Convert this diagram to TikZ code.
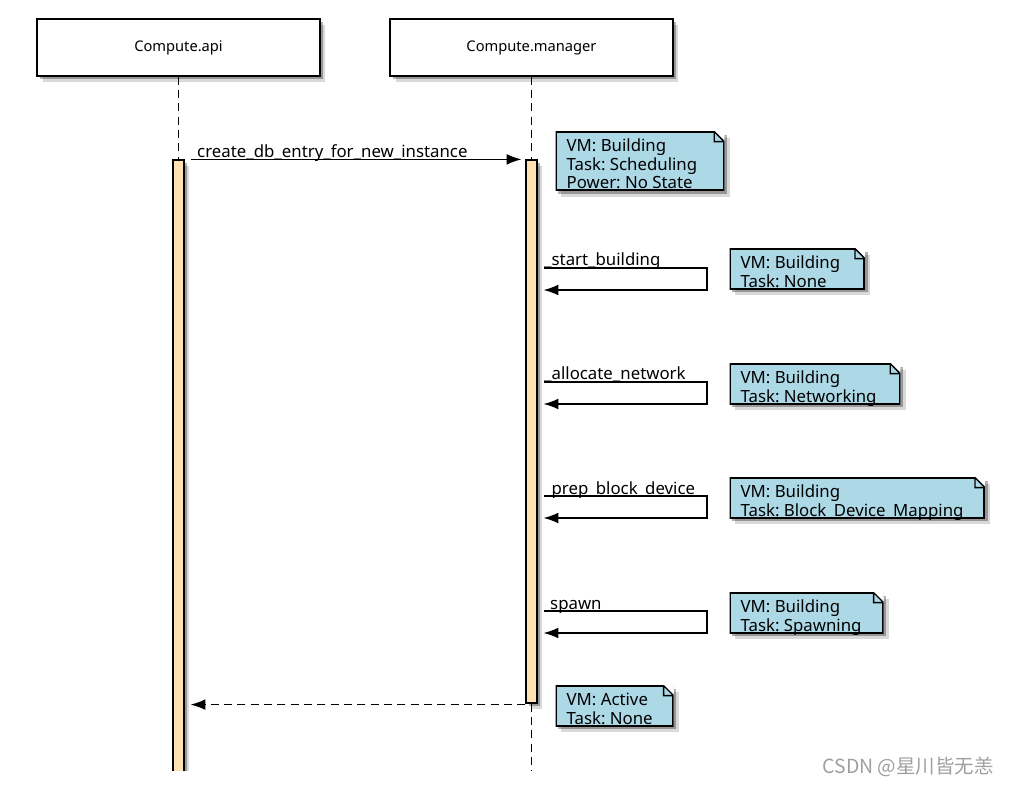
\documentclass[tikz,border=0pt]{standalone}
\usepackage{fontspec}
\setmainfont{Noto Sans}
\newfontfamily\cjk{Noto Sans CJK SC}
\usetikzlibrary{positioning,arrows.meta,calc,shadows}
\definecolor{notebg}{HTML}{ADD8E6}
\definecolor{barbg}{HTML}{FFE1B4}
\frenchspacing
\newcommand\statetext[2]{\begin{tabular}[b]{@{}p{#1}@{}}\rule{0pt}{13.5pt}#2\end{tabular}}
\tikzset{softshadow/.style={
    drop shadow={shadow xshift=2pt,shadow yshift=-2.5pt,opacity=.3,fill=black},
    drop shadow={shadow xshift=4pt,shadow yshift=-4.5pt,opacity=.15,fill=black}
    },
  participant/.style={draw,fill=white,line width=1.1pt,minimum width=212pt,
    minimum height=42.75pt,font=\fontsize{11}{13}\selectfont,softshadow},
  bar/.style={draw,fill=barbg,line width=0.9pt,minimum width=8.25pt,inner sep=0pt,softshadow},
  lifeline/.style={line width=0.9pt,dash pattern=on 6pt off 4pt},
  msglabel/.style={anchor=base west,inner sep=0pt,yshift=1.5pt,font=\fontsize{12.6}{14}\selectfont},
  note/.style={fill=notebg,anchor=north west,inner xsep=8.25pt,inner ysep=1.5pt,text depth=0pt,
    font=\fontsize{12.6}{13.9}\selectfont,softshadow,
    path picture={
        \fill[white] ($(path picture bounding box.north east)+(-10,0)$)
            -- (path picture bounding box.north east)
            -- ($(path picture bounding box.north east)+(0,10)$) -- cycle;
        \draw[line width=2.2pt]
            ($(path picture bounding box.north east)+(-10,0)$)
            -- (path picture bounding box.north west)
            -- (path picture bounding box.south west)
            -- (path picture bounding box.south east)
            -- ($(path picture bounding box.north east)+(0,10)$);
        \draw[line width=1pt]
            ($(path picture bounding box.north east)+(0,10)$)
            -- ($(path picture bounding box.north east)+(-10,0)$)
            -- ($(path picture bounding box.north east)+(-10,10)$)
            -- cycle;
        }
    },
  watermark/.style={font=\cjk\fontsize{14.6}{16}\selectfont,text=gray!75,inner sep=0pt}
}

\begin{document}
\begin{tikzpicture}[x=0.75pt,y=-0.75pt,>={Latex[length=11pt,width=8pt]},line width=0.9pt]
	\useasboundingbox (0,0) rectangle (1009,787);
	\begin{scope}
	\clip (0,0) rectangle (1009,770);
	\node[participant] (api) at (178.5,47.5) {Compute.api};
	\node[participant] (mgr) at (531.5,47.5) {Compute.manager};
	\node[bar,minimum height=472.5pt] (apibar) at (178.5,475) {};
	\node[bar,minimum height=407.25pt] (mgrbar) at (531.5,431.5) {};
	\coordinate (mgrend) at (531.5,775);
	\draw[lifeline] (api) -- (apibar);
	\draw[lifeline] (mgr) -- (mgrbar);
	\draw[lifeline] (mgrbar) -- (mgrend);
	% api -> manager
	\draw[->] ($(apibar.north east)+(6,0)$) node[msglabel,xshift=4.5pt]{create\_db\_entry\_for\_new\_instance}
	    -- ($(mgrbar.north west)+(-4,0)$);
	\node[note] (st1) at (555,131) {\statetext{110pt}{VM: Building\\Task: Scheduling\\Power: No State}};
	% self calls on the manager
	\coordinate (sb1) at (707,268); \coordinate (sb2) at (707,290);
	\draw[->] ($(mgrbar.east |- sb1)+(6,0)$) node[msglabel]{\_start\_building}
	    -- (sb1) -- (sb2) -- ($(mgrbar.east |- sb2)+(6,0)$);
	\node[note] (st2) at (729,248) {\statetext{85pt}{VM: Building\\Task: None}};
	\coordinate (an1) at (707,382); \coordinate (an2) at (707,404);
	\draw[->] ($(mgrbar.east |- an1)+(6,0)$) node[msglabel]{\_allocate\_network}
	    -- (an1) -- (an2) -- ($(mgrbar.east |- an2)+(6,0)$);
	\node[note] (st3) at (729,363) {\statetext{111.5pt}{VM: Building\\Task: Networking}};
	\coordinate (pb1) at (707,496); \coordinate (pb2) at (707,518);
	\draw[->] ($(mgrbar.east |- pb1)+(6,0)$) node[msglabel]{\_prep\_block\_device}
	    -- (pb1) -- (pb2) -- ($(mgrbar.east |- pb2)+(6,0)$);
	\node[note] (st4) at (729,477) {\statetext{175pt}{VM: Building\\Task: Block\_Device\_Mapping}};
	\coordinate (sp1) at (707,611); \coordinate (sp2) at (707,633);
	\draw[->] ($(mgrbar.east |- sp1)+(6,0)$) node[msglabel,xshift=4.5pt]{spawn}
	    -- (sp1) -- (sp2) -- ($(mgrbar.east |- sp2)+(6,0)$);
	\node[note] (st5) at (729,592) {\statetext{99pt}{VM: Building\\Task: Spawning}};
	% return to api
	\draw[->,dash pattern=on 6pt off 4pt] ($(mgrbar.south west)+(0,1)$) -- ($(apibar.east |- mgrbar.south)+(6,1)$);
	\node[note] (st6) at (555,685) {\statetext{72pt}{VM: Active\\Task: None}};
	\end{scope}
	\node[watermark,anchor=west] (wm) at (822,767) {CSDN @星川皆无恙};
\end{tikzpicture}
\end{document}
